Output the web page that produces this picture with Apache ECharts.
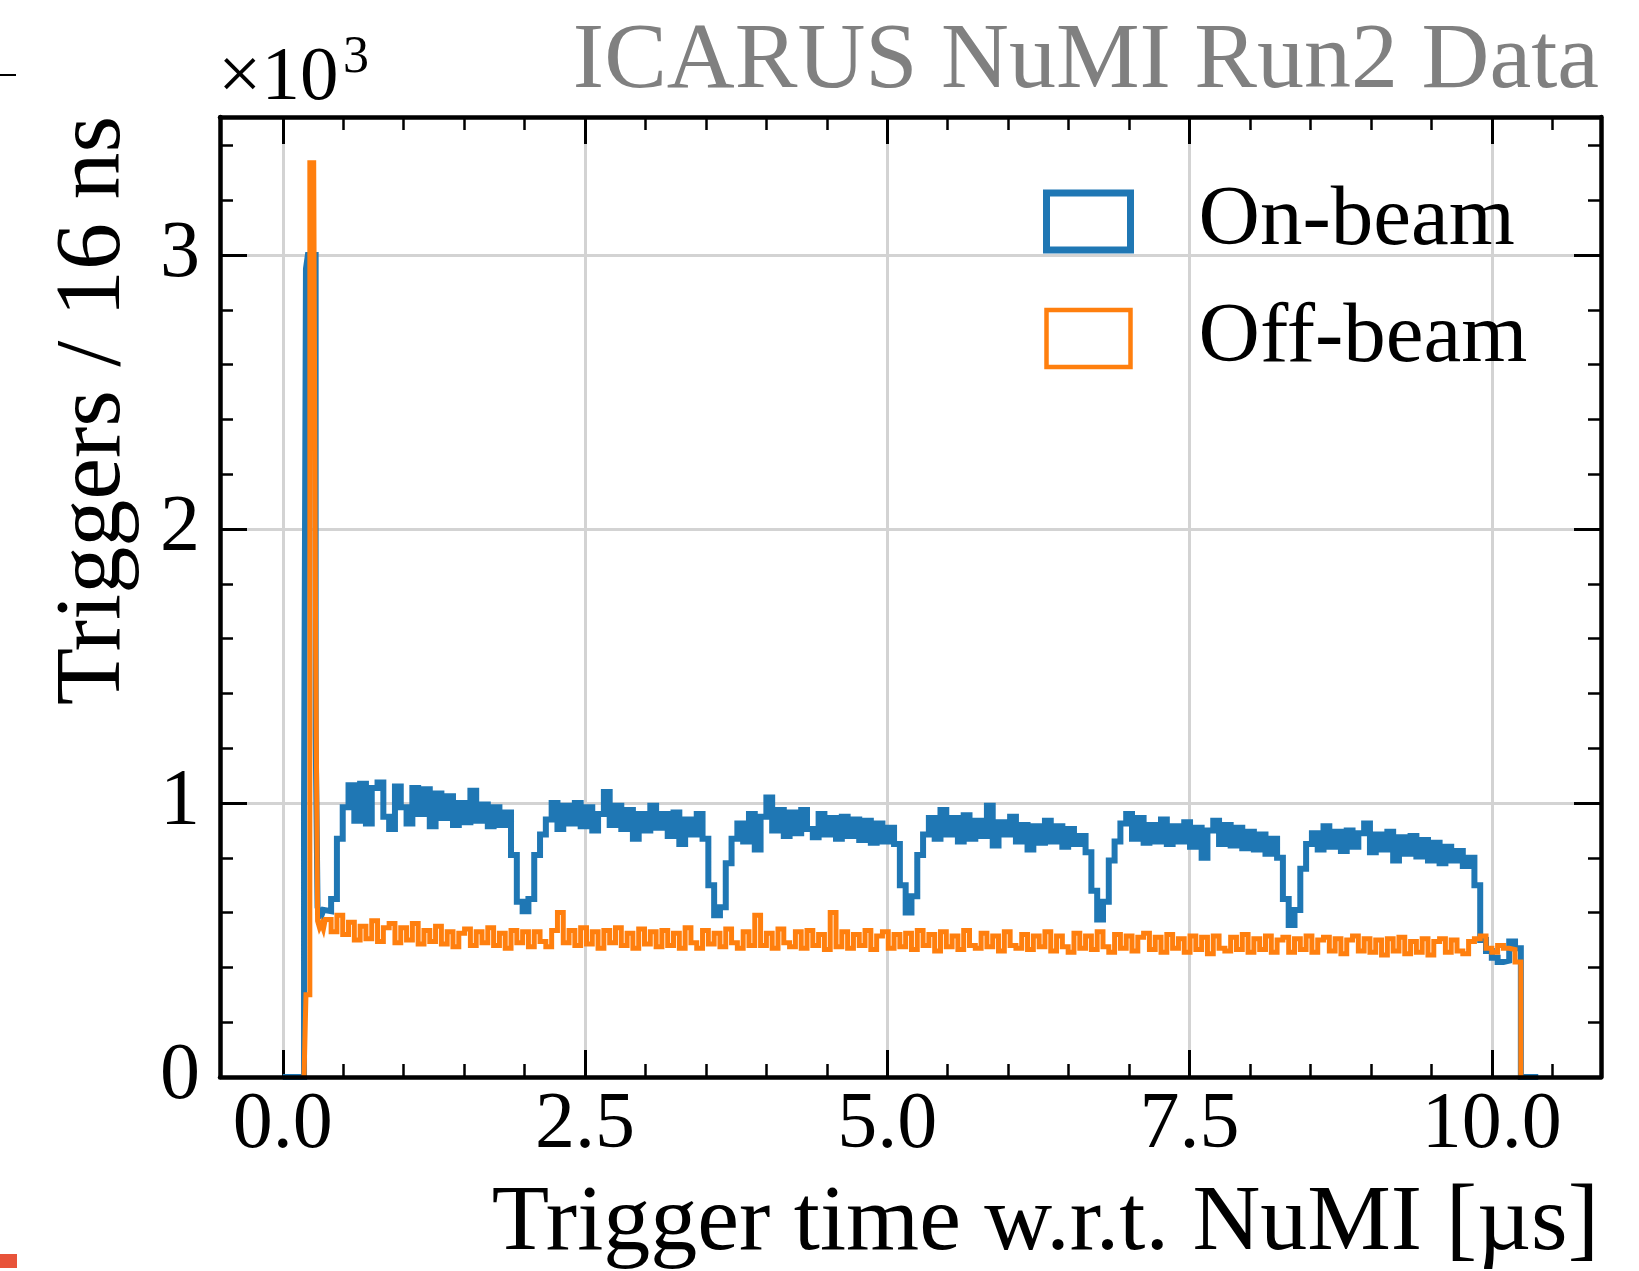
<!DOCTYPE html>
<html><head><meta charset="utf-8">
<script src="https://cdn.jsdelivr.net/npm/echarts@6/dist/echarts.min.js"></script>
<style>html,body{margin:0;padding:0;background:#fff}#chart{width:1639px;height:1271px}</style>
</head><body><div id="chart"></div>
<script>
// ---- data (counts per bin) ----
const fineStep = 0.016;      // µs, 16 ns bins around the prompt peak
const coarseStep = 0.048;    // µs, 3 x 16 ns bins for the flat part
const fineStart = 0.176;
const coarseStart = 0.352;
const onBeamHistStart = 0.0;
const offBeamHistStart = 0.176;

const onBeamFine  = [1000, 2950, 3000, 3000, 3000, 3000, 1250, 620, 600, 590, 610];
const offBeamFine = [0, 300, 300, 3337, 3337, 3337, 1580, 570, 545, 560, 540];

const onBeamCoarse = [
  605, 650, 870, 985, 1065, 935, 1070, 925, 1055, 1075,
  950, 905, 1060, 985, 925, 1055, 960, 1050, 915, 1035,
  945, 1025, 920, 1000, 930, 1045, 935, 995, 915, 985,
  920, 965, 810, 640, 605, 650, 810, 885, 940, 1000,
  905, 990, 925, 1000, 915, 985, 900, 960, 1040, 920,
  990, 905, 975, 870, 960, 900, 990, 910, 960, 880,
  965, 850, 940, 885, 960, 870, 700, 590, 620, 780,
  870, 925, 860, 960, 830, 950, 1020, 900, 975, 880,
  965, 890, 975, 905, 875, 960, 885, 945, 870, 950,
  880, 940, 865, 935, 855, 925, 860, 910, 850, 700,
  600, 660, 810, 885, 945, 870, 975, 885, 945, 860,
  955, 870, 935, 880, 990, 845, 930, 885, 950, 860,
  920, 830, 915, 855, 935, 860, 915, 840, 905, 850,
  880, 820, 680, 575, 640, 790, 860, 925, 960, 870,
  945, 855, 920, 860, 940, 850, 915, 860, 930, 840,
  910, 800, 900, 935, 850, 920, 845, 910, 835, 895,
  830, 885, 815, 870, 800, 650, 555, 610, 760, 850,
  890, 830, 915, 840, 895, 825, 900, 840, 890, 925,
  820, 885, 830, 895, 790, 875, 815, 880, 805, 865,
  790, 855, 780, 840, 790, 825, 770, 800, 700, 500,
  460, 435, 420, 425, 495, 470, 0, 0, 0
];

const offBeamCoarse = [
  575, 530, 590, 520, 565, 500, 550, 505, 570, 495,
  545, 560, 490, 545, 500, 560, 485, 535, 495, 550,
  485, 530, 475, 525, 540, 480, 530, 490, 545, 480,
  525, 470, 535, 490, 530, 475, 530, 495, 475, 535,
  600, 490, 535, 480, 545, 485, 530, 470, 535, 490,
  545, 480, 525, 470, 540, 485, 530, 475, 535, 480,
  525, 470, 545, 490, 470, 535, 485, 525, 475, 540,
  490, 470, 530, 480, 590, 480, 525, 470, 540, 490,
  475, 530, 470, 535, 480, 520, 465, 600, 475, 530,
  470, 520, 480, 535, 465, 515, 530, 470, 520, 475,
  525, 465, 535, 480, 520, 460, 530, 475, 515, 465,
  535, 480, 470, 525, 475, 515, 460, 530, 480, 470,
  520, 465, 515, 475, 530, 460, 515, 475, 455, 525,
  470, 515, 465, 530, 475, 455, 520, 470, 515, 460,
  510, 525, 465, 510, 455, 520, 470, 505, 455, 515,
  465, 510, 450, 515, 470, 460, 510, 465, 520, 455,
  505, 465, 515, 455, 500, 510, 455, 505, 465, 515,
  455, 500, 510, 460, 505, 450, 500, 515, 460, 505,
  455, 500, 445, 505, 460, 510, 450, 495, 455, 505,
  445, 495, 505, 455, 500, 460, 450, 495, 505, 515,
  470, 455, 480, 470, 465, 420
];

const xMajorTicks = [0, 2.5, 5, 7.5, 10];
const xMinorTicks = [0.5, 1, 1.5, 2, 3, 3.5, 4, 4.5, 5.5, 6, 6.5, 7, 8, 8.5, 9, 9.5, 10.5];
const yMajorTicks = [0, 1000, 2000, 3000];
const yMinorTicks = [200, 400, 600, 800, 1200, 1400, 1600, 1800, 2200, 2400, 2600, 2800, 3200, 3400];
const xMin = -0.519, xMax = 10.903;
const yMin = 0, yMax = 3504;

const seriesNames = ['On-beam', 'Off-beam'];
const titleText = 'ICARUS NuMI Run2 Data';
const xTitle = 'Trigger time w.r.t. NuMI [µs]';
const yTitle = 'Triggers / 16 ns';

// ---- build step-histogram points from bin edges ----
function r3(v) { return Math.round(v * 1000) / 1000; }
function buildHist(histStart, fine, coarse) {
  const pts = [[histStart, 0]];
  fine.forEach((v, i) => pts.push([r3(fineStart + i * fineStep), v]));
  coarse.forEach((v, i) => pts.push([r3(coarseStart + i * coarseStep), v]));
  const end = r3(coarseStart + coarse.length * coarseStep);
  pts.push([end, coarse[coarse.length - 1]]);
  pts.push([end, 0]);
  return pts;
}
const onPts = buildHist(onBeamHistStart, onBeamFine, onBeamCoarse);
const offPts = buildHist(offBeamHistStart, offBeamFine, offBeamCoarse);

const FF = 'Liberation Serif';
const BLUE = '#1f77b4', ORANGE = '#ff7f0e';
const tickMajor = { color: '#000', width: 3 };
const tickMinor = { color: '#000', width: 2.5 };
const spine = { color: '#000', width: 4.5 };

function xAx(pos, major, z) {
  return {
    type: 'value', position: pos, min: xMin, max: xMax, z: z,
    axisLine: { show: !major, onZero: false, lineStyle: spine },
    axisTick: { show: true, inside: true, length: major ? 27 : 13,
      customValues: major ? xMajorTicks : xMinorTicks, lineStyle: major ? tickMajor : tickMinor },
    axisLabel: { show: major && pos === 'bottom', customValues: xMajorTicks,
      formatter: v => Number(v).toFixed(1), margin: 9, fontFamily: FF, fontSize: 80, color: '#000' },
    splitLine: { show: major && pos === 'bottom', lineStyle: { color: '#d3d3d3', width: 3 } },
    minorTick: { show: false }, minorSplitLine: { show: false }
  };
}
function yAx(pos, major, z) {
  return {
    type: 'value', position: pos, min: yMin, max: yMax, z: z,
    axisLine: { show: !major, onZero: false, lineStyle: spine },
    axisTick: { show: true, inside: true, length: major ? 27 : 13,
      customValues: major ? yMajorTicks : yMinorTicks, lineStyle: major ? tickMajor : tickMinor },
    axisLabel: { show: major && pos === 'left', customValues: yMajorTicks,
      formatter: v => String(Math.round(v / 1000)), margin: 20, fontFamily: FF, fontSize: 80, color: '#000' },
    splitLine: { show: major && pos === 'left', lineStyle: { color: '#d3d3d3', width: 3 } },
    minorTick: { show: false }, minorSplitLine: { show: false }
  };
}

const chart = echarts.init(document.getElementById('chart'), null, { renderer: 'canvas' });
chart.setOption({
  animation: false,
  backgroundColor: '#ffffff',
  grid: { left: 220, right: 38, top: 117, bottom: 194, containLabel: false },
  xAxis: [xAx('bottom', true, 1), xAx('bottom', false, 10), xAx('top', true, 10), xAx('top', false, 10)],
  yAxis: [yAx('left', true, 1), yAx('left', false, 10), yAx('right', true, 10), yAx('right', false, 10)],
  legend: {
    orient: 'vertical', left: 1038, top: 174, itemWidth: 84, itemHeight: 57, itemGap: 32,
    icon: 'rect', selectedMode: false,
    textStyle: { fontFamily: FF, fontSize: 85, color: '#000', padding: [12, 0, 0, 63] },
    data: [
      { name: seriesNames[0], itemStyle: { color: '#ffffff', borderColor: BLUE, borderWidth: 7 } },
      { name: seriesNames[1], itemStyle: { color: '#ffffff', borderColor: ORANGE, borderWidth: 4.5 } }
    ]
  },
  series: [
    { type: 'line', name: seriesNames[0], data: onPts, step: 'end', symbol: 'none', showSymbol: false,
      xAxisIndex: 0, yAxisIndex: 0, z: 2, itemStyle: { color: BLUE },
      lineStyle: { color: BLUE, width: 6, join: 'miter', cap: 'butt' } },
    { type: 'line', name: seriesNames[1], data: offPts, step: 'end', symbol: 'none', showSymbol: false,
      xAxisIndex: 0, yAxisIndex: 0, z: 3, itemStyle: { color: ORANGE },
      lineStyle: { color: ORANGE, width: 5, join: 'miter', cap: 'butt' } }
  ],
  graphic: [
    { type: 'text', x: 1599, y: 62, silent: true,
      style: { text: titleText, align: 'right', verticalAlign: 'middle', fontFamily: FF, fontSize: 94, fill: '#808080' } },
    { type: 'text', x: 1599, y: 1224, silent: true,
      style: { text: xTitle, align: 'right', verticalAlign: 'middle', fontFamily: FF, fontSize: 94, fill: '#000' } },
    { type: 'text', x: 94, y: 116, rotation: Math.PI / 2, silent: true,
      style: { text: yTitle, align: 'right', verticalAlign: 'middle', fontFamily: FF, fontSize: 94, fill: '#000' } },
    { type: 'text', x: 218, y: 79, silent: true,
      style: { text: '×10', align: 'left', verticalAlign: 'middle', fontFamily: FF, fontSize: 77, fill: '#000' } },
    { type: 'text', x: 343, y: 58, silent: true,
      style: { text: '3', align: 'left', verticalAlign: 'middle', fontFamily: FF, fontSize: 52, fill: '#000' } },
    { type: 'line', silent: true, shape: { x1: 0, y1: 75, x2: 16, y2: 75 }, style: { stroke: '#000', lineWidth: 2 } },
    { type: 'rect', silent: true, shape: { x: 0, y: 1254, width: 17, height: 14 }, style: { fill: '#e8533a' } }
  ]
});
</script></body></html>
